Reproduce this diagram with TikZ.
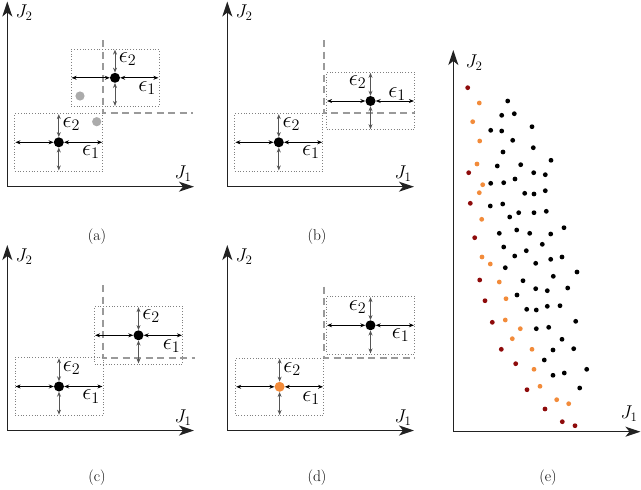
\RequirePackage{fix-cm}
\documentclass[tikz,border=0pt]{standalone}
\usetikzlibrary{arrows.meta,calc}
\definecolor{dred}{HTML}{8E0B0B}
\definecolor{orng}{HTML}{F28B3A}
\definecolor{gdot}{HTML}{ABABAB}
\definecolor{dashg}{HTML}{9A9A9A}
\definecolor{axc}{HTML}{222222}
\definecolor{vac}{HTML}{555555}
\newcommand\mkpt[3]{%
  \node[ptbox] (b#1) at #2 {};
  \node[pt, fill=#3] (p#1) at #2 {};
  \draw[harr] (p#1) -- (b#1.west);
  \draw[harr] (p#1) -- (b#1.east);
  \draw[varr] (p#1) -- (b#1.north);
  \draw[varr] (p#1) -- (b#1.south);
}
\begin{document}
\begin{tikzpicture}[x=1pt,y=-1pt,
  axis/.style={draw=axc, line width=1.5pt, -{Stealth[length=15pt,width=10pt,inset=4pt]}},
  ptbox/.style={draw=gray, dotted, line width=0.8pt, minimum width=88pt, minimum height=57.5pt, inner sep=0pt},
  pt/.style={circle, inner sep=0pt, minimum size=10pt},
  harr/.style={draw=black, line width=0.8pt, {Stealth[length=5pt,width=4pt]}-{Stealth[length=5pt,width=4pt]}, shorten >=1pt},
  varr/.style={draw=vac, line width=0.8pt, {Stealth[length=5pt,width=4pt]}-{Stealth[length=5pt,width=4pt]}, shorten >=1pt},
  dashl/.style={draw=dashg, line width=1.7pt, dash pattern=on 7pt off 4.5pt},
  epsl/.style={font=\fontsize{23}{26}\selectfont, inner sep=0pt},
  jl/.style={font=\fontsize{18.5}{20}\selectfont, inner sep=0pt},
  capt/.style={font=\fontsize{15.5}{17}\selectfont, inner sep=0pt},
  sdot/.style={radius=2.4pt}]
\useasboundingbox (0,0) rectangle (641,490);

% ---------- panel (a) ----------
\coordinate (oa) at (7.3,186.7);
\draw[axis] (oa) -- (7.3,1.5);
\draw[axis] (oa) -- (194,186.7);
\node[jl] (ja2) at (24,13) {$J_2$};
\node[jl] (ja1) at (183,174) {$J_1$};
\draw[dashl] (103.3,40) -- (103.3,113.3) -- (193,113.3);
\mkpt{a1}{(58.8,142.3)}{black}
\mkpt{a2}{(115,77.8)}{black}
\fill[gdot] (80,96) circle (4.6pt);
\fill[gdot] (96.7,121.7) circle (4.6pt);
\node[epsl] at ($(pa1)+(12.5,-18.5)$) {$\epsilon_2$};
\node[epsl] at ($(pa1)+(32,10)$) {$\epsilon_1$};
\node[epsl] at ($(pa2)+(12.5,-18.5)$) {$\epsilon_2$};
\node[epsl] at ($(pa2)+(32,10)$) {$\epsilon_1$};
\node[capt] (ca) at (97,237) {(a)};

% ---------- panel (b) ----------
\coordinate (ob) at (227.3,186.7);
\draw[axis] (ob) -- (227.3,1.5);
\draw[axis] (ob) -- (414,186.7);
\node[jl] (jb2) at (244,13) {$J_2$};
\node[jl] (jb1) at (403,174) {$J_1$};
\draw[dashl] (324,40) -- (324,113.3) -- (415,113.3);
\mkpt{b1}{(278.8,142.3)}{black}
\mkpt{b2}{(370.5,101)}{black}
\node[epsl] at ($(pb1)+(12.5,-18.5)$) {$\epsilon_2$};
\node[epsl] at ($(pb1)+(32,10)$) {$\epsilon_1$};
\node[epsl] at ($(pb2)+(-13,-19)$) {$\epsilon_2$};
\node[epsl] at ($(pb2)+(26.5,-7)$) {$\epsilon_1$};
\node[capt] (cb) at (317,237) {(b)};

% ---------- panel (c) ----------
\coordinate (oc) at (7.3,430.5);
\draw[axis] (oc) -- (7.3,245);
\draw[axis] (oc) -- (194,430.5);
\node[jl] (jc2) at (24,257) {$J_2$};
\node[jl] (jc1) at (183,418) {$J_1$};
\draw[dashl] (103.3,285) -- (103.3,357.7) -- (195,357.7);
\mkpt{c1}{(59,386.5)}{black}
\mkpt{c2}{(138.5,335.3)}{black}
\node[epsl] at ($(pc1)+(12.5,-18.5)$) {$\epsilon_2$};
\node[epsl] at ($(pc1)+(32,10)$) {$\epsilon_1$};
\node[epsl] at ($(pc2)+(12.5,-19.5)$) {$\epsilon_2$};
\node[epsl] at ($(pc2)+(33,10.5)$) {$\epsilon_1$};
\node[capt] (cc) at (97,478) {(c)};

% ---------- panel (d) ----------
\coordinate (od) at (227.3,430.5);
\draw[axis] (od) -- (227.3,245);
\draw[axis] (od) -- (414,430.5);
\node[jl] (jd2) at (244,257) {$J_2$};
\node[jl] (jd1) at (403,418) {$J_1$};
\draw[dashl] (324,286.7) -- (324,357.7) -- (415,357.7);
\mkpt{d1}{(279.6,386.8)}{orng}
\mkpt{d2}{(370.5,325.3)}{black}
\node[epsl] at ($(pd1)+(12.5,-18)$) {$\epsilon_2$};
\node[epsl] at ($(pd1)+(31.5,11)$) {$\epsilon_1$};
\node[epsl] at ($(pd2)+(-13,-18)$) {$\epsilon_2$};
\node[epsl] at ($(pd2)+(30,10)$) {$\epsilon_1$};
\node[capt] (cd) at (317,478) {(d)};

% ---------- panel (e) ----------
\coordinate (oe) at (453.3,431.7);
\draw[axis] (oe) -- (453.3,50);
\draw[axis] (oe) -- (640.5,431.7);
\node[jl] (je2) at (474,63) {$J_2$};
\node[jl] (je1) at (629,414) {$J_1$};
\foreach \p in {(507.7,101),(501.7,115.3),(514.3,113.7),(490.7,130.3),(501.7,131),(532,126.7),(512.7,140.3),(503,152),(533.3,147.7),(497.3,166),(520.7,164.7),(551,160.3),(533.7,172.7),(545.3,174.7),(490.7,183.3),(503.7,182.7),(515,179),(524.7,193.3),(534,194),(545.3,190.7),(490.3,206),(502.7,204),(509.7,217),(518.7,212.7),(534,212.7),(546.3,211.3),(564,227.7),(499.3,233.3),(516.7,230),(529.7,233.3),(550.7,234),(503.7,247),(542.3,244.3),(514.7,256),(526.3,250.7),(505.3,267.7),(535.7,263.3),(550.7,259.3),(562,257),(577,272),(553.3,276.3),(523,280.7),(535.7,288.7),(547.3,290.7),(567.7,288),(517,295),(526.7,309.3),(536.3,310),(547.3,306.3),(560,305.7),(536.3,328.7),(548.7,327.3),(575.7,321.3),(562,339.3),(553,350),(573.7,348.7),(544.3,360),(553,375.3),(564.3,373),(586.7,369.3),(579.7,388)}
  \fill[black, sdot] \p circle;
\foreach \p in {(479.3,103),(472.7,121.7),(479.7,141),(477,164),(482.7,184.7),(479.3,192.7),(481.7,219.3),(482,257),(490.3,264),(499.3,282),(506,298.7),(505.3,320),(520.3,328.7),(512.3,338.7),(532,349.3),(534,369.3),(540,386.3),(556.7,399.7),(568.7,403.7)}
  \fill[orng, sdot] \p circle;
\foreach \p in {(467.7,87.7),(468.7,172.7),(470.3,203.3),(474.7,237.7),(479.7,280),(485,300.7),(492.3,322.3),(501.3,349.3),(515.7,363.7),(527,389.7),(545,409),(562.3,421.7),(575,425.7)}
  \fill[dred, sdot] \p circle;
\node[capt] (ce) at (548,478) {(e)};
\end{tikzpicture}
\end{document}
